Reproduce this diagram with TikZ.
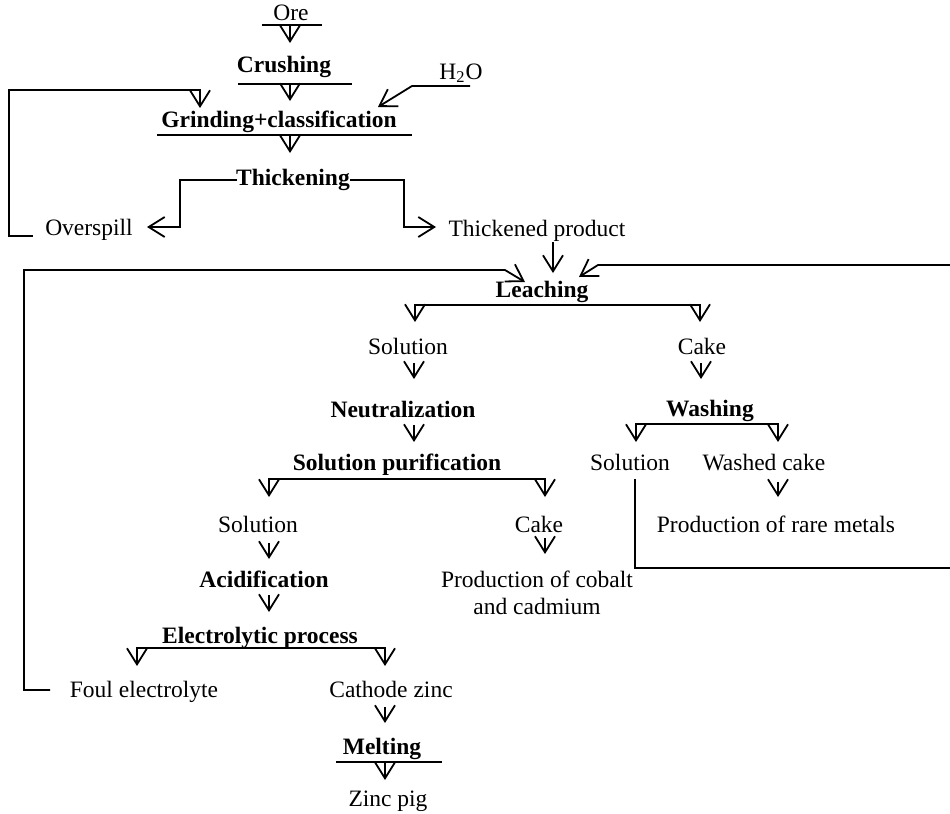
\documentclass[tikz,border=0pt]{standalone}
\usepackage{fontspec}
\setmainfont{Liberation Serif}
\usetikzlibrary{arrows.meta}
\newcommand{\DefPts}[1]{\foreach \x/\y/\n in {#1}{\coordinate (\n) at (\x,\y);}}
\newcommand{\Down}[2]{\draw[flow] (#1) -- ++(0,#2);}

\begin{document}
\begin{tikzpicture}[x=0.5pt,y=-0.5pt,line width=0.9pt,
  every node/.style={font=\fontsize{11.75}{13.5}\selectfont,inner sep=0pt,anchor=base},
  stage/.style={font=\fontsize{11.75}{13.5}\selectfont\bfseries},
  flow/.style={-{Straight Barb[length=8pt,width=10pt]}},
  split/.style={{Straight Barb[length=8pt,width=10pt]}-{Straight Barb[length=8pt,width=10pt]}}]
\useasboundingbox (0,0) rectangle (950,814);

% points of the lines
\DefPts{262/25/oreL,322/25/oreR,290/25/oreA,
  238/84/crL,352/84/crR,290/84/crA,
  157/135/grL,412/135/grR,290/135/grA,
  470/86/hA,412/86/hB,378/107/hT,
  33/236/ovA,9/236/ovB,9/90/ovC,200/90/ovD,200/108/ovT,
  237/180/tkL,180/180/tkB,180/227/tkC,147/227/tkT,
  350/180/tkR,404/180/tkD,404/227/tkE,436/227/tkU,
  553/242/tpA,
  50/690/fA,24/690/fB,24/270/fC,505/270/fD,525/282/fT,
  635/479/wA,635/568/wB,952/568/wC,952/265/wD,598/265/wE,579/277/wT,
  415/322/lbL,415/305/lbA,700/305/lbB,700/322/lbR,
  414/363/s1A,701/363/c1A,414/425/nA,
  636/442/wbL,636/424/wbA,778/424/wbB,778/442/wbR,
  269/497/pbL,269/479/pbA,545/479/pbB,545/497/pbR,
  269/543/s2A,545/538/c2A,778/482/wcA,269/595/aA,
  137/666/ebL,137/648/ebA,385/648/ebB,385/666/ebR,
  385/707/czA,336/762/mL,442/762/mR,385/762/mA}

% texts
\node (ore) at (291,20) {Ore};
\node[stage] (crush) at (284,72) {Crushing};
\node (h2o) at (461,79) {H\textsubscript{2}O};
\node[stage] (grind) at (279,127) {Grinding+classification};
\node[stage] (thick) at (293,185) {Thickening};
\node (over) at (89,235) {Overspill};
\node (thprod) at (537,236) {Thickened product};
\node[stage] (leach) at (542,297) {Leaching};
\node (sol1) at (408,354) {Solution};
\node (cake1) at (702,354) {Cake};
\node[stage] (neut) at (403,417) {Neutralization};
\node[stage] (wash) at (710,416) {Washing};
\node[stage] (solpur) at (397,470) {Solution purification};
\node (sol3) at (630,470) {Solution};
\node (wcake) at (764,470) {Washed cake};
\node (sol2) at (258,532) {Solution};
\node (cake2) at (539,532) {Cake};
\node (rare) at (776,532) {Production of rare metals};
\node[stage] (acid) at (264,587) {Acidification};
\node[align=center] (cobalt) at (537,614) {Production of cobalt\\and cadmium};
\node[stage] (elec) at (260,643) {Electrolytic process};
\node (foul) at (144,697) {Foul electrolyte};
\node (cathode) at (391,697) {Cathode zinc};
\node[stage] (melt) at (382,754) {Melting};
\node (zinc) at (388,806) {Zinc pig};

% underlines
\draw (oreL) -- (oreR);
\draw (crL) -- (crR);
\draw (grL) -- (grR);
\draw (mL) -- (mR);

% flows
\Down{oreA}{18}
\Down{crA}{17}
\Down{grA}{18}
\draw[flow] (hA) -- (hB) -- (hT);
\draw[flow] (ovA) -- (ovB) -- (ovC) -- (ovD) -- (ovT);
\draw[flow] (tkL) -- (tkB) -- (tkC) -- (tkT);
\draw[flow] (tkR) -- (tkD) -- (tkE) -- (tkU);
\Down{tpA}{31}
\draw[flow] (fA) -- (fB) -- (fC) -- (fD) -- (fT);
\draw[flow] (wA) -- (wB) -- (wC) -- (wD) -- (wE) -- (wT);
\draw[split] (lbL) -- (lbA) -- (lbB) -- (lbR);
\Down{s1A}{16}
\Down{c1A}{16}
\Down{nA}{17}
\draw[split] (wbL) -- (wbA) -- (wbB) -- (wbR);
\draw[split] (pbL) -- (pbA) -- (pbB) -- (pbR);
\Down{s2A}{16}
\Down{c2A}{16}
\Down{wcA}{15}
\Down{aA}{17}
\draw[split] (ebL) -- (ebA) -- (ebB) -- (ebR);
\Down{czA}{16}
\Down{mA}{18}
\end{tikzpicture}
\end{document}
